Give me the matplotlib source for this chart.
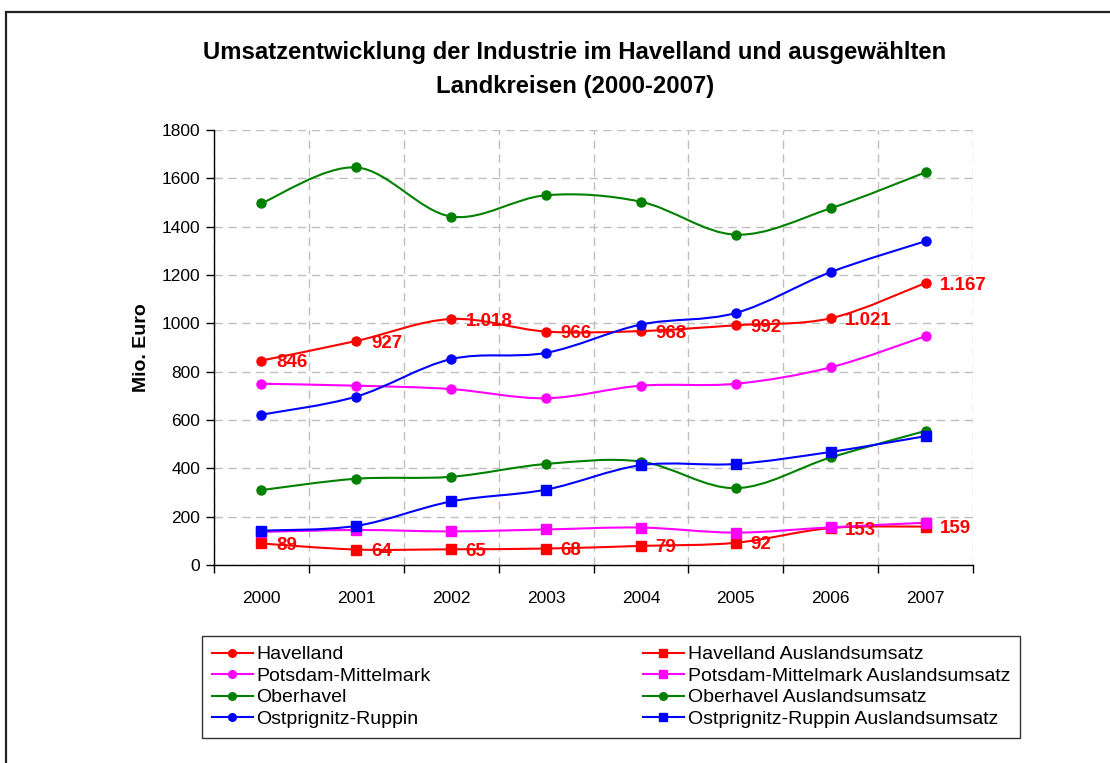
import matplotlib
matplotlib.use("Agg")
import matplotlib.pyplot as plt
from matplotlib.path import Path
from matplotlib.patches import PathPatch, Rectangle
from matplotlib.lines import Line2D
import numpy as np

plt.rcParams['font.family'] = ['Liberation Sans', 'DejaVu Sans']

years = ['2000', '2001', '2002', '2003', '2004', '2005', '2006', '2007']

havelland = [846, 927, 1018, 966, 968, 992, 1021, 1167]
havelland_ausl = [89, 64, 65, 68, 79, 92, 153, 159]
potsdam = [750, 742, 728, 690, 742, 750, 818, 947]
potsdam_ausl = [137, 145, 139, 147, 155, 134, 156, 175]
oberhavel = [1497, 1645, 1442, 1530, 1503, 1367, 1476, 1625]
oberhavel_ausl = [310, 357, 365, 418, 428, 318, 445, 555]
opr = [622, 697, 852, 878, 995, 1043, 1212, 1340]
opr_ausl = [142, 162, 263, 312, 413, 418, 468, 533]

main_names = ['Havelland', 'Potsdam-Mittelmark', 'Oberhavel', 'Ostprignitz-Ruppin']
ausl_names = ['Havelland Auslandsumsatz', 'Potsdam-Mittelmark Auslandsumsatz',
              'Oberhavel Auslandsumsatz', 'Ostprignitz-Ruppin Auslandsumsatz']

RED, MAG, GRN, BLU = '#FF0000', '#FF00FF', '#008000', '#0000FF'

series = [
    (main_names[0], havelland, RED, 'o'),
    (main_names[1], potsdam, MAG, 'o'),
    (main_names[2], oberhavel, GRN, 'o'),
    (main_names[3], opr, BLU, 'o'),
    (ausl_names[0], havelland_ausl, RED, 's'),
    (ausl_names[1], potsdam_ausl, MAG, 's'),
    (ausl_names[2], oberhavel_ausl, GRN, 'o'),
    (ausl_names[3], opr_ausl, BLU, 's'),
]


def smooth_path(xs, ys):
    pts = np.column_stack([xs, ys]).astype(float)
    n = len(pts)
    verts = [pts[0]]
    codes = [Path.MOVETO]
    for i in range(n - 1):
        p0 = pts[i - 1] if i > 0 else pts[i]
        p1 = pts[i]
        p2 = pts[i + 1]
        p3 = pts[i + 2] if i + 2 < n else pts[i + 1]
        c1 = p1 + (p2 - p0) / 6.0
        c2 = p2 - (p3 - p1) / 6.0
        verts += [c1, c2, p2]
        codes += [Path.CURVE4] * 3
    return Path(verts, codes)


fig = plt.figure(figsize=(11.10, 7.63), dpi=100)
ax = fig.add_axes([214 / 1110, 1 - 565 / 763, (973 - 214) / 1110, (565 - 130) / 763])

x = np.arange(len(years))

# outer frame
fig.patches.append(Rectangle((6 / 1110, -0.1), 1.2, 1 - 12 / 763 + 0.1,
                             transform=fig.transFigure, fill=False,
                             edgecolor='#222222', linewidth=1.6, zorder=0))

handles = {}
for name, vals, col, mk in series:
    pp = PathPatch(smooth_path(x, vals), facecolor='none', edgecolor=col,
                   linewidth=1.5, zorder=3)
    ax.add_patch(pp)
    ax.plot(x, vals, linestyle='none', marker=mk, markersize=6.5,
            color=col, zorder=4)
    handles[name] = Line2D([], [], color=col, linewidth=1.5, marker=mk, markersize=5.5)


def de_fmt(v):
    return f"{v:,}".replace(',', '.')


for vals in (havelland, havelland_ausl):
    for xi, v in zip(x, vals):
        ax.annotate(de_fmt(v), (xi, v), xytext=(10.5, -1.5), textcoords='offset points',
                    ha='left', va='center', color=RED, fontsize=13.5,
                    fontweight='bold', zorder=5)

ax.set_xlim(-0.5, 7.5)
ax.set_ylim(0, 1800)
ax.set_yticks(np.arange(0, 1801, 200))
ax.set_xticks(x)
ax.set_xticklabels(years)
ax.set_xticks(np.arange(-0.5, 7.6, 1), minor=True)
ax.tick_params(axis='x', which='major', length=0, pad=19, labelsize=12.5)
ax.tick_params(axis='x', which='minor', length=6, width=1, direction='out')
ax.tick_params(axis='y', length=6, width=1, direction='out', labelsize=12.5, pad=4)

ax.grid(False)
ax.yaxis.grid(True, which='major', linestyle=(0, (6, 4)), color='#BFBFBF', linewidth=1)
ax.xaxis.grid(True, which='minor', linestyle=(0, (6, 4)), color='#BFBFBF', linewidth=1)
ax.set_axisbelow(True)

for s in ['top', 'right']:
    ax.spines[s].set_visible(False)
for s in ['left', 'bottom']:
    ax.spines[s].set_color('black')
    ax.spines[s].set_linewidth(1)

ax.set_ylabel('Mio. Euro', fontsize=14, fontweight='bold', labelpad=8)

fig.text(575 / 1110, 1 - 53 / 763,
         'Umsatzentwicklung der Industrie im Havelland und ausgewählten',
         ha='center', va='center', fontsize=17.2, fontweight='bold')
fig.text(575 / 1110, 1 - 87 / 763, 'Landkreisen (2000-2007)',
         ha='center', va='center', fontsize=17.2, fontweight='bold')

order = main_names + ausl_names
leg = fig.legend([handles[n] for n in order], order, ncol=2,
                 loc='upper left',
                 bbox_to_anchor=(202 / 1110, 1 - 748 / 763, (1020 - 202) / 1110, (748 - 636) / 763),
                 mode='expand', fontsize=14, frameon=True, fancybox=False,
                 edgecolor='black', handlelength=2.1, handletextpad=0.2,
                 labelspacing=0.2, borderaxespad=0, borderpad=0.5)
leg.get_frame().set_linewidth(1)

fig.savefig('out.png', dpi=100)
